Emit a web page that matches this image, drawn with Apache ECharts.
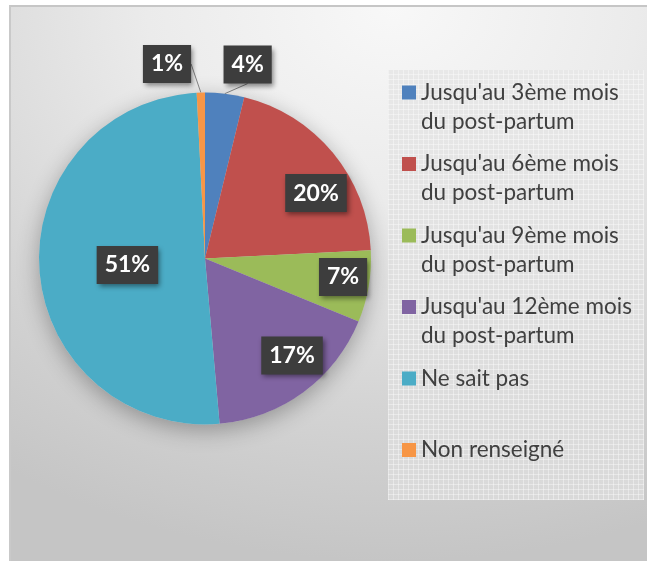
<!DOCTYPE html>
<html><head><meta charset="utf-8">
<script src="https://cdn.jsdelivr.net/npm/echarts@6/dist/echarts.min.js"></script>
<style>
html,body{margin:0;padding:0;width:647px;height:561px;overflow:hidden;background:#fff;}
#frame{position:absolute;left:9px;top:5px;width:638px;height:556px;box-sizing:border-box;border-top:2px solid #c6c6c6;border-left:2px solid #c9c9c9;
background:radial-gradient(ellipse 110% 100% at 60% 0%, #f8f8f8 0%, #ebebeb 35%, #d4d4d4 72%, #c5c5c5 100%);}
#legendbg{position:absolute;left:388px;top:70px;width:256px;height:430px;
background-image:repeating-linear-gradient(0deg, rgba(255,255,255,0.38) 0 1px, transparent 1px 5px),repeating-linear-gradient(90deg, rgba(255,255,255,0.38) 0 1px, transparent 1px 5px),linear-gradient(#e8e8e8,#d9d9d9);}
#chart{position:absolute;left:0;top:0;width:647px;height:561px;}
</style></head>
<body>
<div id="frame"></div>
<div id="legendbg"></div>
<div id="chart"></div>
<script>
// ---- data ----
const categories = [
  "Jusqu'au 3ème mois du post-partum",
  "Jusqu'au 6ème mois du post-partum",
  "Jusqu'au 9ème mois du post-partum",
  "Jusqu'au 12ème mois du post-partum",
  "Ne sait pas",
  "Non renseigné"
];
const values = [3.8, 20.4, 7.0, 17.4, 50.6, 0.8];
const colors = ['#4f81bd', '#c0504d', '#9bbb59', '#8064a2', '#4bacc6', '#f79646'];

// ---- layout ----
const PIE_CX = 205, PIE_CY = 258.5, PIE_R = 166;
const outsideLabel = [true, false, false, false, false, true];
// label anchor, polar from pie centre: [radius factor, angle clockwise from 12 o'clock]
const labelPolar = [[1.196, 12.4], [0.776, 59.5], [0.839, 97.6], [0.785, 138.1], [0.469, 265.2], [1.194, -11.05]];

const chart = echarts.init(document.getElementById('chart'), null, {renderer: 'canvas'});

const pieData = categories.map((name, i) => ({
  name: name,
  value: values[i],
  itemStyle: {color: colors[i]},
  label: {position: outsideLabel[i] ? 'outside' : 'inside'},
  labelLine: {show: outsideLabel[i]}
}));

const iconPath = 'path://M0,0L0.01,0L0,0.01Z M0,7.5L14,7.5L14,21.5L0,21.5Z M14,58L13.99,58L14,57.99Z';

chart.setOption({
  animation: false,
  backgroundColor: 'transparent',
  legend: {
    data: categories,
    orient: 'vertical',
    left: 402,
    top: 78,
    padding: 0,
    itemWidth: 14,
    itemHeight: 58,
    itemGap: 13.5,
    icon: iconPath,
    selectedMode: false,
    formatter: function (name) {
      if (name.indexOf(' du ') >= 0) return name.replace(' du ', '\ndu ');
      return name + '\n\u00a0';
    },
    textStyle: {fontFamily: 'Lato', fontSize: 22.5, lineHeight: 29, color: '#404040'}
  },
  series: [
    {
      type: 'pie',
      silent: true,
      center: [PIE_CX, PIE_CY],
      radius: PIE_R,
      z: 1,
      label: {show: false},
      labelLine: {show: false},
      itemStyle: {color: '#cfcfcf', shadowBlur: 22, shadowColor: 'rgba(0,0,0,0.3)', shadowOffsetY: 6},
      data: [{value: 1, name: '__shadow'}]
    },
    {
      type: 'pie',
      center: [PIE_CX, PIE_CY],
      radius: PIE_R,
      z: 2,
      startAngle: 90,
      clockwise: true,
      avoidLabelOverlap: false,
      silent: true,
      label: {
        show: true,
        formatter: p => Math.round(p.value) + '%',
        color: '#ffffff',
        fontFamily: 'Lato',
        fontWeight: 'bold',
        fontSize: 23,
        backgroundColor: '#3d3d3d',
        padding: [8, 8, 7, 8],
        shadowColor: 'rgba(0,0,0,0.45)',
        shadowBlur: 5,
        shadowOffsetX: 2,
        shadowOffsetY: 3
      },
      labelLine: {length: 8, length2: 0, lineStyle: {color: '#7f7f7f', width: 1}},
      labelLayout: function (p) {
        const lp = labelPolar[p.dataIndex];
        const a = lp[1] * Math.PI / 180;
        return {
          x: PIE_CX + lp[0] * PIE_R * Math.sin(a),
          y: PIE_CY - lp[0] * PIE_R * Math.cos(a),
          align: 'center',
          verticalAlign: 'middle'
        };
      },
      data: pieData
    }
  ]
});
</script>
</body></html>
